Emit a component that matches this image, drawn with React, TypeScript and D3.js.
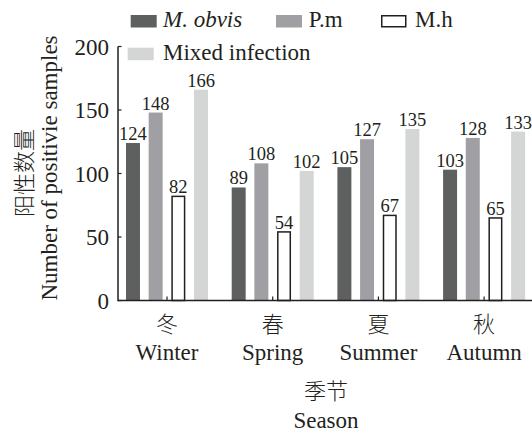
import React from "react";
import * as d3 from "d3";

const seasonsZh = ["冬", "春", "夏", "秋"];
const seasonsEn = ["Winter", "Spring", "Summer", "Autumn"];
const seriesNames = ["M. obvis", "P.m", "M.h", "Mixed infection"];
const mObvis = [124, 89, 105, 103];
const pm = [148, 108, 127, 128];
const mh = [82, 54, 67, 65];
const mixed = [166, 102, 135, 133];
const yTicks = [0, 50, 100, 150, 200];

const W = 532;
const H = 433;
const ink = "#231f20";
const fills = ["#5e5f5f", "#a0a0a4", "#ffffff", "#d4d5d5"];
const serifStyle = { fontFamily: '"Liberation Serif", "Times New Roman", Times, "DejaVu Serif", serif' };
const cjkStyle = { fontFamily: '"Noto Sans CJK SC", "Noto Sans CJK JP", sans-serif', fontWeight: 300 };

export default function App() {
  const series = [mObvis, pm, mh, mixed];
  const y = d3.scaleLinear().domain([0, 200]).range([300.5, 46.5]);
  const x0 = d3
    .scaleBand<string>()
    .domain(seasonsEn)
    .range([114.15, 536.95])
    .paddingInner(0.224)
    .paddingOuter(0.112);
  const x1 = d3
    .scaleBand<string>()
    .domain(seriesNames)
    .range([0, x0.bandwidth()])
    .paddingInner(0.383)
    .paddingOuter(0);
  const axisX = 118;
  const baseY = y(0);

  const legend = [
    { i: 0, sx: 130.7, sy: 15, tx: 163, ty: 27 },
    { i: 1, sx: 276, sy: 15, tx: 308.7, ty: 27 },
    { i: 2, sx: 381, sy: 15, tx: 415, ty: 27 },
    { i: 3, sx: 127.7, sy: 47.7, tx: 163, ty: 59.5 },
  ];

  return (
    <svg width={W} height={H} style={{ display: "block", position: "absolute", left: 0, top: 0 }}>
      <rect width={W} height={H} fill="#fff" />
      {legend.map((l) => (
        <g key={l.i}>
          <rect
            x={l.i === 2 ? l.sx + 0.75 : l.sx}
            y={l.i === 2 ? l.sy + 0.75 : l.sy}
            width={l.i === 2 ? 24 : 26}
            height={l.i === 2 ? 11 : 12.5}
            fill={fills[l.i]}
            stroke={l.i === 2 ? ink : "none"}
            strokeWidth={1.5}
          />
          <text
            x={l.tx}
            y={l.ty}
            style={serifStyle}
            fontSize={23}
            fontStyle={l.i === 0 ? "italic" : "normal"}
            fill={ink}
          >
            {seriesNames[l.i]}
          </text>
        </g>
      ))}
      {seasonsEn.map((s, ci) => (
        <g key={s} transform={`translate(${x0(s)},0)`}>
          {seriesNames.map((n, si) => {
            const v = series[si][ci];
            const bx = x1(n)!;
            const bw = x1.bandwidth();
            const top = y(v);
            const outlined = si === 2;
            return (
              <g key={n}>
                <rect
                  x={outlined ? bx + 0.75 : bx}
                  y={top}
                  width={outlined ? bw - 1.5 : bw}
                  height={baseY - top}
                  fill={fills[si]}
                  stroke={outlined ? ink : "none"}
                  strokeWidth={1.5}
                />
                <text
                  x={bx + bw / 2}
                  y={top - 3}
                  textAnchor="middle"
                  style={serifStyle}
                  fontSize={18.5}
                  fill={ink}
                >
                  {v}
                </text>
              </g>
            );
          })}
        </g>
      ))}
      <line x1={axisX} x2={axisX} y1={y(200)} y2={baseY + 0.75} stroke={ink} strokeWidth={1.5} />
      <line x1={axisX} x2={W} y1={baseY} y2={baseY} stroke={ink} strokeWidth={1.5} />
      {yTicks.map((t) => (
        <g key={t}>
          <line x1={axisX} x2={axisX + 3.5} y1={y(t)} y2={y(t)} stroke={ink} strokeWidth={1.2} />
          <text
            x={109}
            y={y(t)}
            dy="0.35em"
            textAnchor="end"
            style={serifStyle}
            fontSize={23}
            fill={ink}
          >
            {t}
          </text>
        </g>
      ))}
      {seasonsEn.map((s, i) => {
        const cx = x0(s)! + x0.bandwidth() / 2;
        return (
          <g key={s}>
            <line x1={cx} x2={cx} y1={baseY} y2={baseY - 4} stroke={ink} strokeWidth={1.2} />
            <text x={cx} y={332} textAnchor="middle" style={cjkStyle} fontSize={22} fill={ink}>
              {seasonsZh[i]}
            </text>
            <text x={cx} y={360} textAnchor="middle" style={serifStyle} fontSize={23} fill={ink}>
              {s}
            </text>
          </g>
        );
      })}
      <text x={326} y={399} textAnchor="middle" style={cjkStyle} fontSize={22} fill={ink}>
        季节
      </text>
      <text x={326} y={428} textAnchor="middle" style={serifStyle} fontSize={23} fill={ink}>
        Season
      </text>
      <text
        transform="translate(32,173) rotate(-90)"
        textAnchor="middle"
        style={cjkStyle}
        fontSize={22}
        fill={ink}
      >
        阳性数量
      </text>
      <text
        transform="translate(57,168) rotate(-90)"
        textAnchor="middle"
        style={serifStyle}
        fontSize={23}
        fill={ink}
      >
        Number of positivie samples
      </text>
    </svg>
  );
}
